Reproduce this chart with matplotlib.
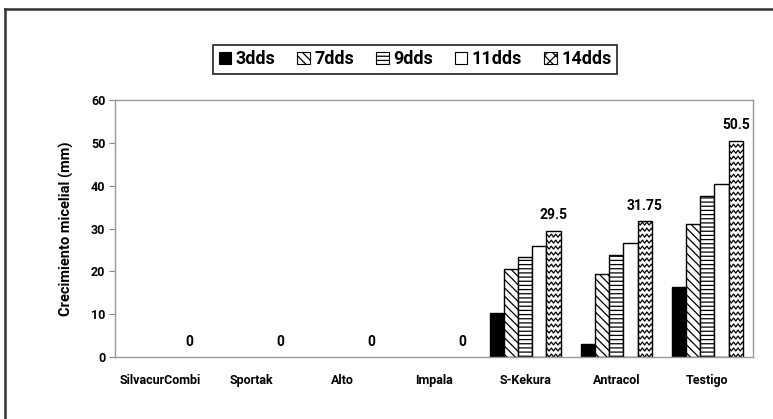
import matplotlib.pyplot as plt
import numpy as np
from matplotlib.lines import Line2D
from matplotlib.patches import Patch

plt.rcParams['font.family'] = ['Roboto', 'DejaVu Sans']
plt.rcParams['font.weight'] = 'bold'
plt.rcParams['hatch.linewidth'] = 0.9

categorias = ["SilvacurCombi", "Sportak", "Alto", "Impala", "S-Kekura", "Antracol", "Testigo"]
series = ["3dds", "7dds", "9dds", "11dds", "14dds"]
d3 = [0, 0, 0, 0, 10.2, 3.1, 16.3]
d7 = [0, 0, 0, 0, 20.5, 19.4, 31.0]
d9 = [0, 0, 0, 0, 23.4, 23.8, 37.5]
d11 = [0, 0, 0, 0, 26.0, 26.7, 40.4]
d14 = [0, 0, 0, 0, 29.5, 31.75, 50.5]
etiquetas = ["0", "0", "0", "0", "29.5", "31.75", "50.5"]

valores = [d3, d7, d9, d11, d14]
colores = ["black", "white", "white", "white", "white"]
tramas = [None, "\\\\\\\\", "----", None, None]

fig = plt.figure(figsize=(7.73, 4.19), dpi=100)
ax = fig.add_axes([0.1488, 0.148, 0.8252, 0.613])

x = np.arange(len(categorias))
w = 0.156
barras_14 = None
for i, (vals, c) in enumerate(zip(valores, colores)):
    pos = x + (i - 2) * w
    b = ax.bar(pos, vals, width=w, color=c, edgecolor="black", linewidth=1.0,
               hatch=tramas[i])
    for r in b:
        if r.get_height() <= 0:
            r.set_visible(False)
    if i == 4:
        barras_14 = b

# trama en zigzag para 14dds (lineas recortadas a cada barra)
for rect in barras_14:
    h = rect.get_height()
    if h <= 0:
        continue
    x0 = rect.get_x()
    bw = rect.get_width()
    xs = np.linspace(x0 - 0.02, x0 + bw + 0.02, 9)
    for y0 in np.arange(0, h, 1.4):
        ys = y0 + np.where(np.arange(len(xs)) % 2 == 0, 0, 0.7)
        ln = Line2D(xs, ys, color="black", linewidth=0.9)
        ax.add_line(ln)
        ln.set_clip_path(rect)

# etiquetas de valor sobre la barra 14dds
for xi, v, t in zip(x, d14, etiquetas):
    ax.text(xi + 2 * w, v + 3.6, t, ha="center", va="center", fontsize=10, fontweight="bold")

ax.set_xlim(-0.5, len(categorias) - 0.5)
ax.set_ylim(0, 60)
ax.set_yticks(np.arange(0, 61, 10))
ax.set_xticks(x)
ax.set_xticklabels(categorias)
ax.tick_params(axis="x", length=0, pad=12, labelsize=9)
ax.tick_params(axis="y", length=4, color="#888888", labelsize=9, pad=3)
for s in ax.spines.values():
    s.set_color("#999999")
    s.set_linewidth(1.0)
ax.set_ylabel("Crecimiento micelial (mm)", fontsize=10.5, fontweight="bold", labelpad=12)

handles = [Patch(facecolor=colores[i], edgecolor="black", hatch=tramas[i] if i < 4 else "xxx", linewidth=0.8)
           for i in range(len(series))]
leg = fig.legend(handles, series, loc="center", bbox_to_anchor=(0.537, 0.858), ncol=5,
                 fancybox=False, edgecolor="black", fontsize=13, handlelength=0.7,
                 handleheight=0.7, handletextpad=0.25, columnspacing=1.2, borderpad=0.3)
leg.get_frame().set_linewidth(1.3)
for t in leg.get_texts():
    t.set_fontweight("bold")

# marco exterior (solo borde superior e izquierdo visibles)
fig.add_artist(Line2D([0.0065, 1.0], [0.978, 0.978], transform=fig.transFigure, color="#333333", linewidth=1.8))
fig.add_artist(Line2D([0.0065, 0.0065], [0.0, 0.978], transform=fig.transFigure, color="#333333", linewidth=1.8))

fig.savefig("out.png", dpi=100)
